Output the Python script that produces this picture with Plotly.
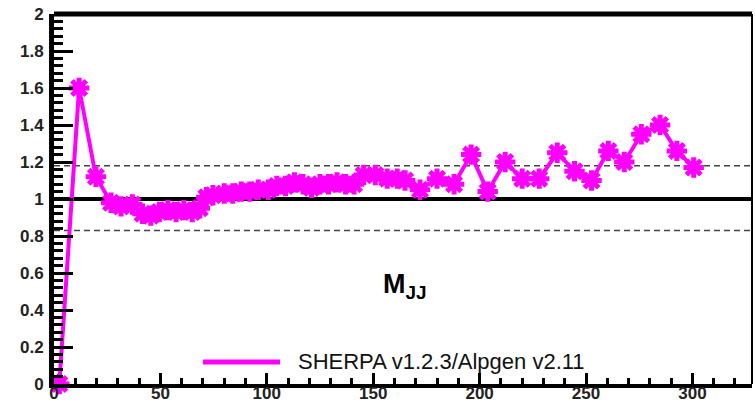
import plotly.graph_objects as go

# Data
mjj = [2.5, 11.8, 19.7, 26.8, 31.5, 36.8, 41.6, 45.5, 49.5, 53.5, 57.4, 61, 65, 68.5,
       71.6, 74.7, 80, 84, 88, 92, 96, 100.7, 104.7, 108.8, 113, 117, 121, 125, 129,
       133, 137, 141, 145.5, 151, 156.6, 161.3, 165, 172, 180, 188, 196, 203.8, 212,
       220, 228, 236.5, 244.6, 252.6, 260.5, 268, 276, 284.8, 292.7, 300.6]
ratio = [0.0, 1.60, 1.12, 0.98, 0.96, 0.97, 0.92, 0.91, 0.93, 0.94, 0.93, 0.94, 0.93, 0.95,
         1.01, 1.02, 1.03, 1.03, 1.04, 1.04, 1.05, 1.05, 1.07, 1.07, 1.09, 1.08, 1.06, 1.08, 1.08,
         1.09, 1.08, 1.08, 1.13, 1.13, 1.11, 1.11, 1.10, 1.05, 1.11, 1.08, 1.24, 1.04, 1.20,
         1.11, 1.11, 1.25, 1.15, 1.10, 1.26, 1.20, 1.35, 1.40, 1.26, 1.17]
ref_line = 1.0
band_hi = 1.18
band_lo = 0.83
x_ticks = [0, 50, 100, 150, 200, 250, 300]
y_ticks = [0, 0.2, 0.4, 0.6, 0.8, 1, 1.2, 1.4, 1.6, 1.8, 2]
y_ticklabels = ["0", "0.2", "0.4", "0.6", "0.8", "1", "1.2", "1.4", "1.6", "1.8", "2"]
series_name = "SHERPA v1.2.3/Alpgen v2.11"
label_text = "M<sub>JJ</sub>"

X_MAX = 328
MAGENTA = "#ff00ff"

fig = go.Figure()

# horizontal reference lines
fig.add_trace(go.Scatter(x=[0, X_MAX], y=[band_hi, band_hi], mode="lines",
                         line=dict(color="#444444", width=1.5, dash="6px,4px"),
                         showlegend=False, hoverinfo="skip"))
fig.add_trace(go.Scatter(x=[0, X_MAX], y=[band_lo, band_lo], mode="lines",
                         line=dict(color="#444444", width=1.5, dash="6px,4px"),
                         showlegend=False, hoverinfo="skip"))
fig.add_trace(go.Scatter(x=[0, X_MAX], y=[ref_line, ref_line], mode="lines",
                         line=dict(color="black", width=4),
                         showlegend=False, hoverinfo="skip"))

# main series
fig.add_trace(go.Scatter(x=mjj, y=ratio, mode="lines+markers", name=series_name,
                         line=dict(color=MAGENTA, width=4),
                         marker=dict(symbol="asterisk-open", size=17,
                                     color=MAGENTA, line=dict(color=MAGENTA, width=5)),
                         showlegend=False, cliponaxis=False))

tickfont = dict(family="Liberation Sans, Arial, sans-serif", size=17, color="#222222",
                weight="bold")

fig.update_xaxes(range=[0, X_MAX], tickvals=x_ticks, ticktext=[str(v) for v in x_ticks],
                 ticks="inside", ticklen=11, tickwidth=3, tickcolor="black",
                 minor=dict(ticks="inside", dtick=10, ticklen=6, tickwidth=3, tickcolor="black"),
                 showline=True, linewidth=4, linecolor="black", showgrid=False,
                 zeroline=False, tickfont=tickfont, ticklabelstandoff=-9, automargin=False)
fig.update_yaxes(range=[0, 2], tickvals=y_ticks, ticktext=y_ticklabels,
                 ticks="inside", ticklen=19, tickwidth=3, tickcolor="black",
                 minor=dict(ticks="inside", dtick=0.04, ticklen=9, tickwidth=3, tickcolor="black"),
                 showline=True, linewidth=5, linecolor="black", showgrid=False,
                 zeroline=False, tickfont=tickfont, ticklabelstandoff=2, automargin=False)

shapes = [
    # top frame edge
    dict(type="line", xref="paper", yref="paper", x0=0, x1=1, y0=1, y1=1,
         line=dict(color="black", width=5)),
    # right frame edge
    dict(type="line", xref="paper", yref="paper", x0=1, x1=1, y0=0, y1=1,
         line=dict(color="black", width=2)),
    # legend line sample
    dict(type="line", xref="paper", yref="paper", x0=0.2135, x1=0.3238, y0=0.0595, y1=0.0595,
         line=dict(color=MAGENTA, width=5)),
]

annotations = [
    dict(text=series_name, xref="paper", yref="paper", x=0.3467, y=0.0595,
         xanchor="left", yanchor="middle", showarrow=False,
         font=dict(family="Liberation Sans, Arial, sans-serif", size=22, color="#111111")),
    dict(text=label_text, xref="paper", yref="paper", x=0.503, y=0.265,
         xanchor="center", yanchor="middle", showarrow=False,
         font=dict(family="Liberation Sans, Arial, sans-serif", size=27, color="black",
                   weight="bold")),
]

fig.update_layout(width=755, height=401,
                  margin=dict(l=54, r=3, t=14, b=17),
                  paper_bgcolor="white", plot_bgcolor="white",
                  shapes=shapes, annotations=annotations)

fig.write_html("out.html", config={"displayModeBar": False},
               post_script="document.body.style.margin='0';document.body.style.overflow='hidden';")
